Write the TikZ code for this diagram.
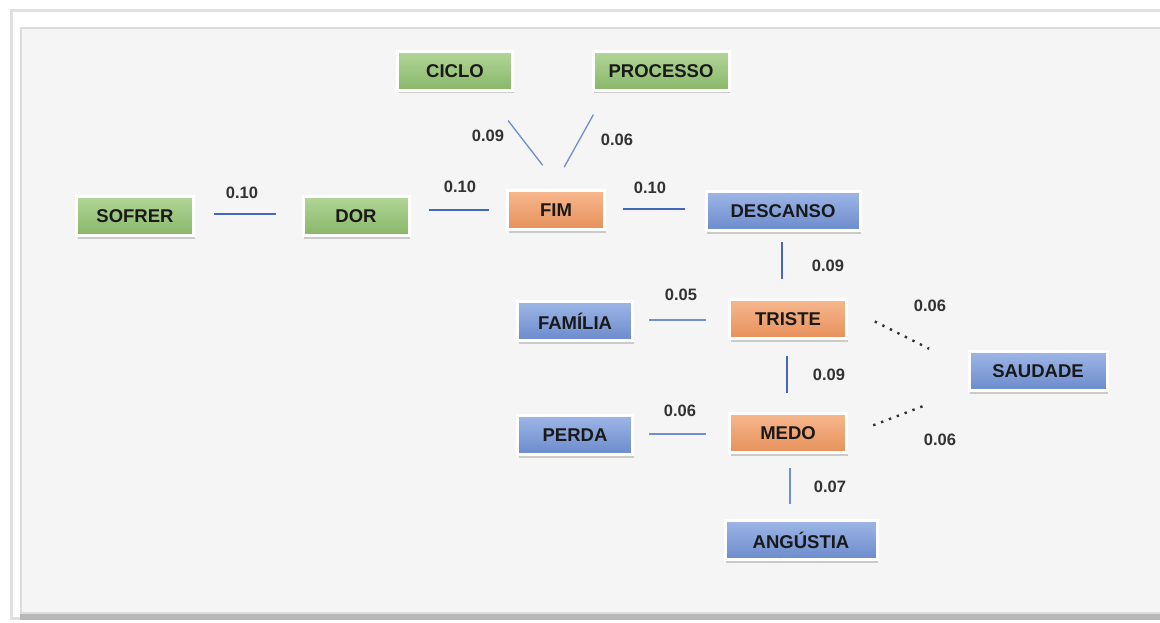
\documentclass[tikz,border=0pt]{standalone}
\usepackage{fontspec}
\setmainfont{Liberation Sans}
\usetikzlibrary{shadows}

\definecolor{greentop}{HTML}{B2D698}
\definecolor{greenbot}{HTML}{88B668}
\definecolor{orangetop}{HTML}{F7B88E}
\definecolor{orangebot}{HTML}{E6905A}
\definecolor{bluetop}{HTML}{9DB6E6}
\definecolor{bluebot}{HTML}{6C8BCC}
\definecolor{linkblue}{HTML}{4468BE}
\definecolor{thinblue}{HTML}{6F8FCF}

\begin{document}
\begin{tikzpicture}[x=1pt,y=-1pt,
    word/.style={rectangle, draw=white, line width=3pt, minimum height=39pt, inner sep=2pt,
        font=\fontsize{18.5}{21}\selectfont\bfseries, text=black!90,
        drop shadow={shadow xshift=1pt, shadow yshift=-3pt, opacity=0.25, fill=black!70}},
    green_word/.style={word, top color=greentop, bottom color=greenbot},
    orange_word/.style={word, top color=orangetop, bottom color=orangebot},
    blue_word/.style={word, top color=bluetop, bottom color=bluebot},
    weight/.style={font=\fontsize{16.5}{19}\selectfont\bfseries, text=black!80, inner sep=1pt},
    strong_link/.style={linkblue, line width=2.6pt},
    mid_link/.style={linkblue, line width=2.2pt},
    weak_link/.style={thinblue, line width=1.3pt},
    dot_link/.style={black!80, line width=2.4pt, dash pattern=on 2.4pt off 6pt}]

    % frame
    \useasboundingbox (0,0) rectangle (1160,623);
    \fill[white] (0,0) rectangle (1160,623);
    \fill[black!12] (10,9) rectangle (1160,620);
    \fill[white] (13,12) rectangle (1160,617);
    \fill[black!28] (20,27) rectangle (1160,620);
    \fill[black!14] (20,27) rectangle (1160,614);
    \fill[black!4] (22,29) rectangle (1160,612);

    % words
    \node[green_word, minimum width=117pt] (sofrer) at (135,216) {SOFRER};
    \node[green_word, minimum width=106pt] (dor) at (356,216) {DOR};
    \node[orange_word, minimum width=97pt] (fim) at (556,210) {FIM};
    \node[blue_word, minimum width=154pt] (descanso) at (783,211) {DESCANSO};
    \node[green_word, minimum width=115pt] (ciclo) at (455,71) {CICLO};
    \node[green_word, minimum width=136pt] (processo) at (661,71) {PROCESSO};
    \node[blue_word, minimum width=115pt] (familia) at (575,321) {FAMÍLIA};
    \node[orange_word, minimum width=117pt] (triste) at (788,319) {TRISTE};
    \node[blue_word, minimum width=138pt] (saudade) at (1038,371) {SAUDADE};
    \node[blue_word, minimum width=115pt] (perda) at (575,435) {PERDA};
    \node[orange_word, minimum width=117pt] (medo) at (788,433) {MEDO};
    \node[blue_word, minimum width=152pt] (angustia) at (801,540) {ANGÚSTIA};

    % links
    \draw[strong_link, shorten <=19pt, shorten >=26pt] ([yshift=2]sofrer.east) -- ([yshift=2]dor.west);
    \draw[strong_link, shorten <=18pt, shorten >=17pt] ([yshift=6]dor.east) -- (fim.west);
    \draw[strong_link, shorten <=17pt, shorten >=20pt] ([yshift=1]fim.east) -- ([yshift=2]descanso.west);
    \draw[weak_link, shorten <=36pt, shorten >=30pt] ([xshift=31]ciclo.south) -- ([xshift=5]fim.north);
    \draw[weak_link, shorten <=26pt, shorten >=25pt] ([xshift=-55]processo.south) -- ([xshift=-4]fim.north);
    \draw[mid_link, shorten <=10pt, shorten >=19pt] ([xshift=-1]descanso.south) -- ([xshift=-6]triste.north);
    \draw[weak_link, shorten <=15pt, shorten >=22pt] ([yshift=1]familia.east) -- ([yshift=-1]triste.west);
    \draw[mid_link, shorten <=16pt, shorten >=19pt] ([xshift=-1]triste.south) -- ([xshift=-1]medo.north);
    \draw[weak_link, shorten <=15pt, shorten >=22pt] ([yshift=1]perda.east) -- ([yshift=-1]medo.west);
    \draw[weak_link, shorten <=14pt, shorten >=15pt] ([xshift=2]medo.south) -- ([xshift=-11]angustia.north);
    \draw[dot_link, shorten <=30pt, shorten >=43pt] ([yshift=11]triste.east) -- ([yshift=3]saudade.west);
    \draw[dot_link, shorten <=27pt, shorten >=43pt] ([yshift=-2]medo.east) -- ([yshift=-18]saudade.west);

    % weights
    \node[weight] (w_sofrer_dor) at (242,193) {0.10};
    \node[weight] (w_dor_fim) at (460,187) {0.10};
    \node[weight] (w_fim_descanso) at (650,188) {0.10};
    \node[weight] (w_ciclo_fim) at (488,136) {0.09};
    \node[weight] (w_processo_fim) at (617,140) {0.06};
    \node[weight] (w_descanso_triste) at (828,266) {0.09};
    \node[weight] (w_familia_triste) at (681,295) {0.05};
    \node[weight] (w_triste_medo) at (829,375) {0.09};
    \node[weight] (w_perda_medo) at (680,411) {0.06};
    \node[weight] (w_triste_saudade) at (930,306) {0.06};
    \node[weight] (w_medo_saudade) at (940,440) {0.06};
    \node[weight] (w_medo_angustia) at (830,487) {0.07};
\end{tikzpicture}
\end{document}
